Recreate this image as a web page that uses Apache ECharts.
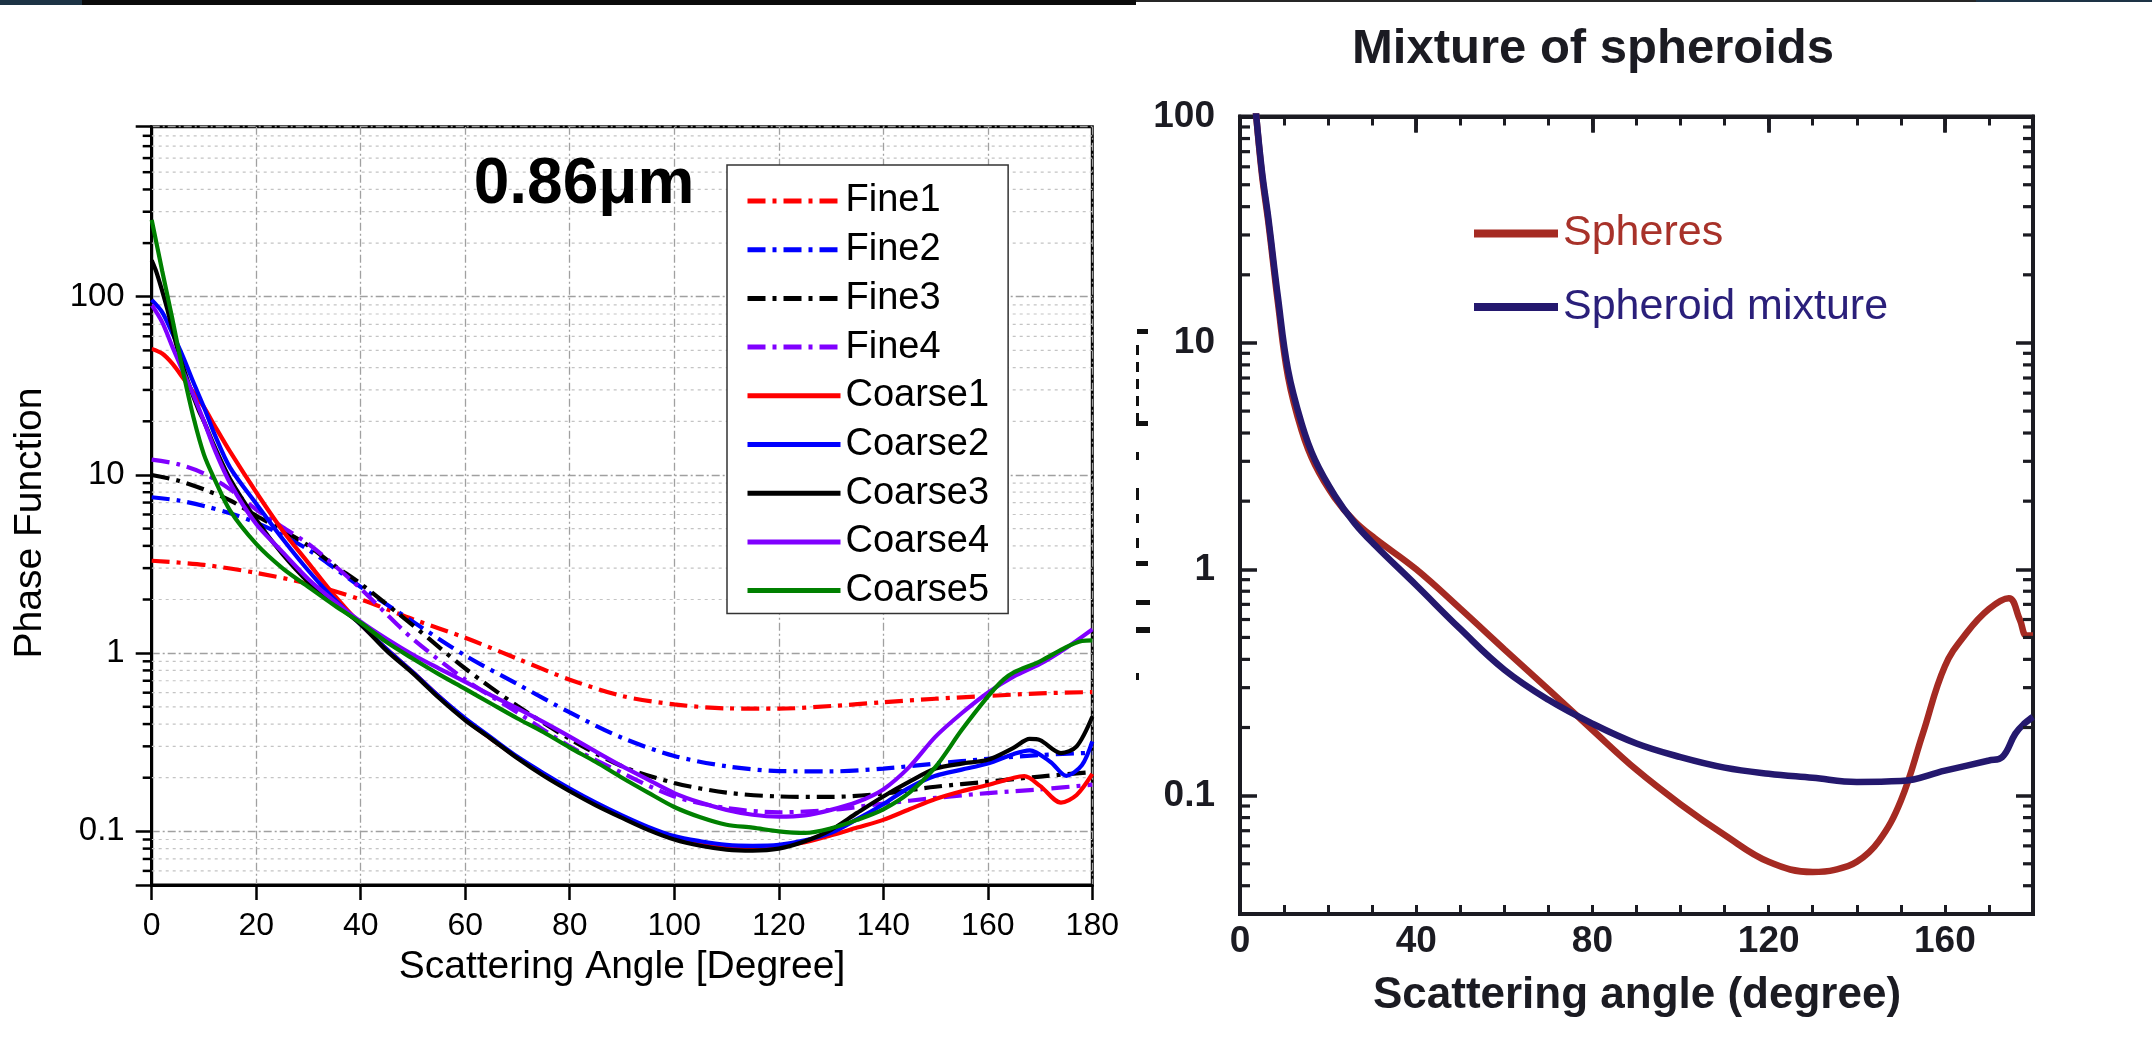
<!DOCTYPE html>
<html>
<head>
<meta charset="utf-8">
<script src="https://cdn.jsdelivr.net/npm/echarts@6.0.0/dist/echarts.min.js"></script>
<style>
  html, body { margin: 0; padding: 0; background: #fff; }
  #main { width: 2152px; height: 1053px; }
</style>
</head>
<body>
<div id="main"></div>
<script>
// left panel, 0.86um phase functions: [angle, value]
const fine1 = [[0,3.3],[10,3.13],[20,2.82],[30,2.45],[40,2.0],[50,1.55],[60,1.22],[70,0.93],[80,0.71],[90,0.575],[100,0.516],[110,0.49],[120,0.488],[130,0.505],[140,0.53],[150,0.555],[160,0.575],[170,0.595],[180,0.605]];
const fine2 = [[0,7.5],[5,7.2],[10,6.7],[15,6.1],[20,5.4],[25,4.6],[30,3.8],[35,3.0],[40,2.35],[50,1.5],[60,0.97],[70,0.67],[80,0.465],[90,0.335],[100,0.265],[110,0.232],[120,0.218],[130,0.217],[140,0.225],[150,0.24],[160,0.255],[170,0.268],[180,0.276]];
const fine3 = [[0,10],[5,9.3],[10,8.3],[15,7.2],[20,5.9],[25,4.9],[30,4.0],[35,3.1],[40,2.45],[50,1.43],[60,0.82],[70,0.505],[80,0.33],[90,0.232],[100,0.187],[110,0.165],[120,0.157],[130,0.156],[140,0.163],[150,0.178],[160,0.19],[170,0.203],[180,0.215]];
const fine4 = [[0,12.2],[5,11.5],[10,10.2],[15,8.3],[20,6.4],[25,5.1],[30,4.1],[35,3.1],[40,2.3],[45,1.65],[50,1.2],[60,0.71],[70,0.464],[80,0.3],[90,0.213],[100,0.157],[110,0.135],[120,0.128],[130,0.132],[140,0.143],[150,0.154],[160,0.164],[170,0.172],[180,0.183]];
const coarse1 = [[0,51],[2,48],[4,42],[6,35],[8,29],[10,24],[12,19],[15,13.5],[20,8],[25,4.9],[30,3.2],[35,2.1],[40,1.45],[45,1.05],[50,0.78],[55,0.57],[60,0.425],[65,0.33],[70,0.259],[75,0.21],[80,0.172],[85,0.143],[90,0.121],[95,0.104],[100,0.092],[105,0.085],[110,0.081],[115,0.08],[120,0.082],[125,0.087],[130,0.095],[135,0.105],[140,0.116],[145,0.133],[150,0.152],[155,0.168],[160,0.182],[165,0.2],[167,0.204],[170,0.18],[174,0.145],[177,0.16],[180,0.21]];
const coarse2 = [[0,96],[2,82],[4,62],[6,46],[8,33],[10,24],[12,17],[15,11],[20,6.9],[25,4.4],[30,2.9],[35,2.0],[40,1.45],[45,1.05],[50,0.78],[55,0.57],[60,0.43],[65,0.335],[70,0.262],[75,0.212],[80,0.174],[85,0.145],[90,0.123],[95,0.106],[100,0.094],[105,0.088],[110,0.084],[115,0.083],[120,0.084],[125,0.089],[130,0.098],[135,0.117],[140,0.142],[145,0.176],[150,0.205],[155,0.222],[160,0.24],[165,0.272],[168,0.285],[172,0.245],[175,0.205],[178,0.235],[180,0.32]];
const coarse3 = [[0,160],[1,135],[3,85],[5,50],[7,33],[9,23],[10,20],[12,14.5],[15,9.5],[20,5.6],[25,3.6],[30,2.5],[35,1.9],[40,1.45],[45,1.03],[50,0.77],[55,0.56],[60,0.42],[65,0.33],[70,0.257],[75,0.205],[80,0.168],[85,0.14],[90,0.119],[95,0.102],[100,0.09],[105,0.083],[110,0.079],[115,0.078],[120,0.08],[125,0.088],[130,0.102],[135,0.127],[140,0.157],[145,0.19],[150,0.225],[155,0.24],[160,0.252],[165,0.295],[168,0.33],[170,0.325],[174,0.275],[177,0.3],[180,0.44]];
const coarse4 = [[0,90],[2,72],[4,52],[6,38],[8,28],[10,20],[12,14],[15,9],[20,5.3],[25,3.7],[30,2.6],[35,1.95],[40,1.5],[45,1.2],[50,0.98],[55,0.82],[60,0.69],[65,0.58],[70,0.49],[75,0.41],[80,0.34],[85,0.28],[90,0.232],[95,0.195],[100,0.164],[105,0.145],[110,0.132],[115,0.124],[120,0.121],[125,0.123],[130,0.132],[135,0.146],[140,0.172],[145,0.23],[150,0.34],[155,0.46],[160,0.6],[165,0.74],[170,0.87],[175,1.07],[180,1.36]];
const coarse5 = [[0,270],[2,140],[4,74],[6,38],[8,21],[10,13],[12,9.5],[15,6.3],[20,4.1],[25,3.0],[30,2.35],[35,1.85],[40,1.48],[45,1.15],[50,0.93],[55,0.76],[60,0.63],[65,0.52],[70,0.43],[75,0.36],[80,0.295],[85,0.245],[90,0.2],[95,0.165],[100,0.137],[105,0.12],[110,0.109],[115,0.105],[120,0.1],[125,0.098],[130,0.104],[135,0.116],[140,0.133],[145,0.165],[150,0.23],[155,0.37],[160,0.57],[163,0.71],[165,0.78],[170,0.9],[175,1.08],[178,1.17],[180,1.18]];

// right panel, mixture of spheroids
const spheres = [[3.6,105],[5,55],[6.4,34.5],[8.6,15.1],[10.9,7.1],[14,4.1],[17,2.9],[21.5,2.07],[26,1.63],[30.6,1.37],[40,1.0],[50,0.67],[60,0.443],[70,0.295],[80,0.195],[90,0.13],[100,0.0916],[110,0.067],[120,0.051],[130,0.046],[135,0.047],[140,0.051],[145,0.063],[150,0.095],[155,0.188],[160,0.373],[165,0.526],[170,0.668],[174.5,0.745],[177,0.6],[178.5,0.51],[180,0.51]];
const spheroidMix = [[3.6,105],[5,57],[6.4,36],[8.6,16],[10.9,7.6],[14,4.4],[17,3.05],[21.5,2.12],[26,1.6],[30.6,1.28],[40,0.85],[50,0.545],[60,0.36],[70,0.265],[80,0.208],[90,0.17],[100,0.148],[110,0.133],[120,0.125],[130,0.12],[140,0.115],[150,0.116],[160,0.129],[170,0.143],[173,0.148],[176,0.188],[178,0.208],[180,0.223]];

// minor log ticks
const leftMinor = [0.06,0.07,0.08,0.09,0.2,0.3,0.4,0.5,0.6,0.7,0.8,0.9,2,3,4,5,6,7,8,9,20,30,40,50,60,70,80,90,200,300,400,500,600,700,800];
const rightMinor = [0.04,0.05,0.06,0.07,0.08,0.09,0.2,0.3,0.4,0.5,0.6,0.7,0.8,0.9,2,3,4,5,6,7,8,9,20,30,40,50,60,70,80,90];

const fineNames = ['Fine1', 'Fine2', 'Fine3', 'Fine4'];
const coarseNames = ['Coarse1', 'Coarse2', 'Coarse3', 'Coarse4', 'Coarse5'];

const FONT = '"Liberation Sans", Arial, sans-serif';
const INK = '#1b1b22';
const dashDot = [18, 7, 4, 7];
const gridDash = [8, 3, 2, 3];

const decadeLabel = (v) => {
  const e = Math.log10(v);
  return Math.abs(e - Math.round(e)) < 1e-6 ? String(+v.toPrecision(3)) : '';
};

const chart = echarts.init(document.getElementById('main'));

const leftLine = (name, data, color, dashed) => ({
  name,
  type: 'line',
  xAxisIndex: 0,
  yAxisIndex: 0,
  data,
  smooth: 0.3,
  symbol: 'none',
  z: 3,
  itemStyle: { color },
  lineStyle: { color, width: 4.2, type: dashed ? dashDot : 'solid' },
});

const rightLine = (name, data, color) => ({
  name,
  type: 'line',
  xAxisIndex: 1,
  yAxisIndex: 1,
  data,
  smooth: 0.4,
  symbol: 'none',
  z: 3,
  itemStyle: { color },
  lineStyle: { color, width: 6.5 },
});

// minor log ticks: y comes from the axis scale; x0 is the angle of the edge
const logTicks = (xi, yi, vals, x0, len, color, width) => ({
  type: 'custom',
  xAxisIndex: xi,
  yAxisIndex: yi,
  data: vals.map((v) => [x0, v]),
  silent: true,
  clip: false,
  z: 30,
  renderItem: (params, api) => {
    const p = api.coord([api.value(0), api.value(1)]);
    const x1 = Math.min(p[0], p[0] + len);
    return {
      type: 'rect',
      shape: { x: x1, y: p[1] - width / 2, width: Math.abs(len), height: width },
      style: { fill: color },
    };
  },
});

// dotted minor grid lines across the left plot
const minorGrid = {
  type: 'custom',
  xAxisIndex: 0,
  yAxisIndex: 0,
  data: leftMinor.map((v) => [90, v]),
  silent: true,
  z: 1,
  renderItem: (params, api) => {
    const y = api.coord([api.value(0), api.value(1)])[1];
    const cs = params.coordSys;
    return {
      type: 'line',
      shape: { x1: cs.x, y1: y, x2: cs.x + cs.width, y2: y },
      style: { stroke: '#c4c4c4', lineWidth: 1.2, lineDash: [3, 4] },
    };
  },
};

// pieces of the cut-off y title at the left edge of the right panel
const cutLabel = [
  [1137, 329, 11, 5], [1136, 345, 3, 10], [1136, 362, 3, 10], [1136, 379, 3, 10], [1136, 396, 3, 10],
  [1136, 413, 3, 8], [1136, 421, 12, 5], [1136, 452, 3, 8], [1136, 488, 3, 12], [1136, 514, 3, 9],
  [1136, 538, 3, 10], [1136, 561, 12, 5], [1136, 600, 14, 5], [1136, 627, 14, 6], [1136, 673, 3, 7],
].map(([x, y, w, h]) => ({ type: 'rect', shape: { x, y, width: w, height: h }, style: { fill: '#111' }, silent: true }));

const inkLine = (w) => ({ onZero: false, lineStyle: { color: INK, width: w } });

chart.setOption({
  animation: false,
  backgroundColor: '#fff',
  grid: [
    { left: 151.7, top: 126.7, width: 940.6, height: 758.3, show: true, borderColor: '#000', borderWidth: 3, backgroundColor: 'transparent' },
    { left: 1240, top: 116.6, width: 793, height: 797.4, show: true, borderColor: INK, borderWidth: 4, backgroundColor: 'transparent' },
  ],
  legend: [
    {
      data: fineNames.concat(coarseNames),
      orient: 'vertical',
      left: 727,
      top: 165,
      padding: [16, 19, 3, 18],
      itemWidth: 93,
      itemHeight: 14,
      itemGap: 8.7,
      selectedMode: false,
      backgroundColor: '#fff',
      borderColor: '#333',
      borderWidth: 1.5,
      borderRadius: 0,
      itemStyle: { opacity: 0 },
      lineStyle: { width: 5 },
      textStyle: { fontFamily: FONT, fontSize: 38, lineHeight: 40, color: '#000' },
    },
    {
      data: [
        { name: 'Spheres', textStyle: { color: '#a8322a' } },
        { name: 'Spheroid mixture', textStyle: { color: '#2a1f7a' } },
      ],
      orient: 'vertical',
      left: 1474,
      top: 210.5,
      padding: 0,
      icon: 'rect',
      itemWidth: 84,
      itemHeight: 8,
      itemGap: 27.5,
      selectedMode: false,
      textStyle: { fontFamily: FONT, fontSize: 43, lineHeight: 46 },
    },
  ],
  xAxis: [
    {
      gridIndex: 0, type: 'value', min: 0, max: 180, interval: 20,
      axisLine: { onZero: false, lineStyle: { color: '#000', width: 3 } },
      axisTick: { inside: false, length: 15, lineStyle: { color: '#000', width: 2.5 } },
      axisLabel: { fontFamily: FONT, fontSize: 32, color: '#000', margin: 25 },
      splitLine: { show: true, lineStyle: { color: '#a0a0a0', width: 1.3, type: gridDash } },
    },
    {
      gridIndex: 1, type: 'value', min: 0, max: 180, interval: 10,
      axisLine: inkLine(4),
      axisTick: { inside: true, length: 9, lineStyle: { color: INK, width: 3 } },
      axisLabel: {
        fontFamily: FONT, fontSize: 37, fontWeight: 'bold', color: INK, margin: 9,
        formatter: (v) => (v % 40 === 0 ? String(v) : ''),
      },
      splitLine: { show: false },
    },
    {
      gridIndex: 1, type: 'value', min: 0, max: 180, interval: 40,
      axisLine: { show: false, onZero: false },
      axisTick: { inside: true, length: 16, lineStyle: { color: INK, width: 3.5 } },
      axisLabel: { show: false },
      splitLine: { show: false },
    },
    {
      gridIndex: 1, type: 'value', position: 'top', min: 0, max: 180, interval: 10,
      axisLine: inkLine(4),
      axisTick: { inside: true, length: 9, lineStyle: { color: INK, width: 3 } },
      axisLabel: { show: false },
      splitLine: { show: false },
    },
    {
      gridIndex: 1, type: 'value', position: 'top', min: 0, max: 180, interval: 40,
      axisLine: { show: false, onZero: false },
      axisTick: { inside: true, length: 16, lineStyle: { color: INK, width: 3.5 } },
      axisLabel: { show: false },
      splitLine: { show: false },
    },
  ],
  yAxis: [
    {
      gridIndex: 0, type: 'log', logBase: 10, min: 0.05, max: 900,
      axisLine: { show: true, onZero: false, lineStyle: { color: '#000', width: 3 } },
      axisTick: { show: true, inside: false, length: 16, lineStyle: { color: '#000', width: 2.5 } },
      axisLabel: { fontFamily: FONT, fontSize: 33, color: '#000', margin: 27, formatter: decadeLabel },
      splitLine: { show: true, lineStyle: { color: '#a0a0a0', width: 1.3, type: gridDash } },
    },
    {
      gridIndex: 1, type: 'log', logBase: 10, min: 0.03, max: 100, position: 'left',
      axisLine: Object.assign({ show: true }, inkLine(4)),
      axisTick: { show: true, inside: true, length: 17, lineStyle: { color: INK, width: 3.5 } },
      axisLabel: { fontFamily: FONT, fontSize: 37, fontWeight: 'bold', color: INK, margin: 25, formatter: decadeLabel },
      splitLine: { show: false },
    },
    {
      gridIndex: 1, type: 'log', logBase: 10, min: 0.03, max: 100, position: 'right',
      axisLine: Object.assign({ show: true }, inkLine(4)),
      axisTick: { show: true, inside: true, length: 17, lineStyle: { color: INK, width: 3.5 } },
      axisLabel: { show: false },
      splitLine: { show: false },
    },
  ],
  series: [
    minorGrid,
    logTicks(0, 0, leftMinor, 0, -9, '#000', 2.5),
    logTicks(1, 1, rightMinor, 180, -10, INK, 3.2),
    logTicks(1, 1, rightMinor, 0, 10, INK, 3.2),
    leftLine('Fine1', fine1, '#ff0000', true),
    leftLine('Fine2', fine2, '#0000ff', true),
    leftLine('Fine3', fine3, '#000000', true),
    leftLine('Fine4', fine4, '#8000ff', true),
    leftLine('Coarse1', coarse1, '#ff0000', false),
    leftLine('Coarse2', coarse2, '#0000ff', false),
    leftLine('Coarse3', coarse3, '#000000', false),
    leftLine('Coarse4', coarse4, '#8000ff', false),
    leftLine('Coarse5', coarse5, '#008000', false),
    rightLine('Spheres', spheres, '#a52a22'),
    rightLine('Spheroid mixture', spheroidMix, '#24186e'),
  ],
  graphic: [
    // dark strip along the top edge
    { type: 'rect', shape: { x: 0, y: 0, width: 1136, height: 5 }, style: { fill: '#0b0b0b' }, silent: true },
    { type: 'rect', shape: { x: 0, y: 0, width: 82, height: 5 }, style: { fill: '#1d3345' }, silent: true },
    { type: 'rect', shape: { x: 1136, y: 0, width: 1016, height: 2 }, style: { fill: '#262626' }, silent: true },
    { type: 'rect', shape: { x: 1976, y: 0, width: 176, height: 2 }, style: { fill: '#1d3345' }, silent: true },
    ...cutLabel,
    {
      type: 'text', x: 584, y: 185, z: 10,
      style: { text: '0.86μm', font: 'bold 64px ' + FONT, fill: '#000', textAlign: 'center', textVerticalAlign: 'middle' },
    },
    {
      type: 'text', x: 30, y: 523, rotation: Math.PI / 2, z: 10,
      style: { text: 'Phase Function', font: '39px ' + FONT, fill: '#000', textAlign: 'center', textVerticalAlign: 'middle' },
    },
    {
      type: 'text', x: 622, y: 967, z: 10,
      style: { text: 'Scattering Angle [Degree]', font: '39px ' + FONT, fill: '#000', textAlign: 'center', textVerticalAlign: 'middle' },
    },
    {
      type: 'text', x: 1593, y: 49, z: 10,
      style: { text: 'Mixture of spheroids', font: 'bold 49px ' + FONT, fill: INK, textAlign: 'center', textVerticalAlign: 'middle' },
    },
    {
      type: 'text', x: 1637, y: 996, z: 10,
      style: { text: 'Scattering angle (degree)', font: 'bold 44px ' + FONT, fill: INK, textAlign: 'center', textVerticalAlign: 'middle' },
    },
  ],
});
</script>
</body>
</html>
